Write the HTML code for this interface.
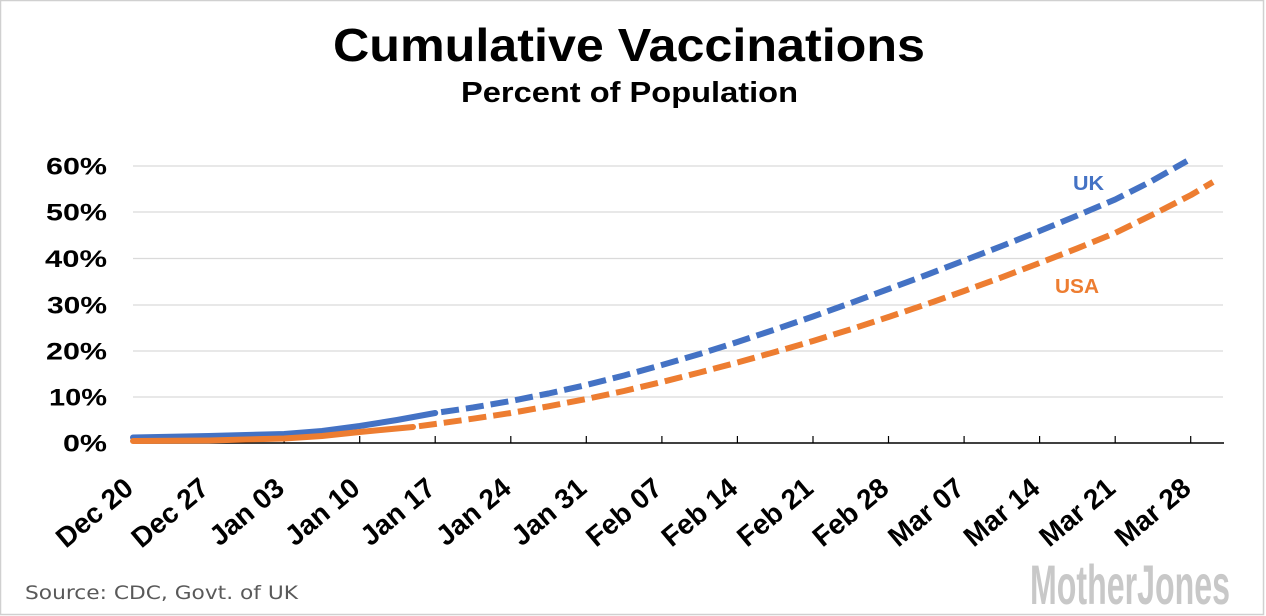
<!DOCTYPE html>
<html>
<head>
<meta charset="utf-8">
<style>
  html, body { margin: 0; padding: 0; background: #ffffff; }
  body { width: 1266px; height: 616px; overflow: hidden; }
  svg { display: block; }
</style>
</head>
<body>
<svg width="1266" height="616" viewBox="0 0 1266 616" xmlns="http://www.w3.org/2000/svg">
  <rect x="0" y="0" width="1266" height="616" fill="#ffffff"/>
  <!-- frame -->
  <rect x="0.5" y="0.5" width="1263" height="614" fill="none" stroke="#d0d0d0" stroke-width="1.5"/>

  <!-- title -->
  <text x="333" y="61" font-family="Liberation Sans, sans-serif" font-weight="bold" font-size="46" fill="#000" textLength="592" lengthAdjust="spacingAndGlyphs">Cumulative Vaccinations</text>
  <text x="461" y="102" font-family="Liberation Sans, sans-serif" font-weight="bold" font-size="29" fill="#000" textLength="337" lengthAdjust="spacingAndGlyphs">Percent of Population</text>

  <!-- gridlines -->
  <g stroke="#dadada" stroke-width="1.2">
    <line x1="133" y1="166" x2="1223" y2="166"/>
    <line x1="133" y1="212" x2="1223" y2="212"/>
    <line x1="133" y1="258.5" x2="1223" y2="258.5"/>
    <line x1="133" y1="305" x2="1223" y2="305"/>
    <line x1="133" y1="351" x2="1223" y2="351"/>
    <line x1="133" y1="397" x2="1223" y2="397"/>
  </g>

  <!-- y labels -->
  <g font-family="Liberation Sans, sans-serif" font-weight="bold" font-size="24" fill="#000" text-anchor="end">
    <text x="107" y="174.5" textLength="61" lengthAdjust="spacingAndGlyphs">60%</text>
    <text x="107" y="220.5" textLength="61" lengthAdjust="spacingAndGlyphs">50%</text>
    <text x="107" y="267" textLength="62" lengthAdjust="spacingAndGlyphs">40%</text>
    <text x="107" y="313.5" textLength="60" lengthAdjust="spacingAndGlyphs">30%</text>
    <text x="107" y="359.5" textLength="61" lengthAdjust="spacingAndGlyphs">20%</text>
    <text x="107" y="405.5" textLength="58" lengthAdjust="spacingAndGlyphs">10%</text>
    <text x="107" y="451.5" textLength="44" lengthAdjust="spacingAndGlyphs">0%</text>
  </g>

  <!-- axis -->
  <line x1="133" y1="443" x2="1224" y2="443" stroke="#000" stroke-width="1.6"/>
  <g stroke="#000" stroke-width="1.2">
    <line x1="133" y1="436" x2="133" y2="443"/>
    <line x1="208.6" y1="436" x2="208.6" y2="443"/>
    <line x1="284.1" y1="436" x2="284.1" y2="443"/>
    <line x1="359.7" y1="436" x2="359.7" y2="443"/>
    <line x1="435.2" y1="436" x2="435.2" y2="443"/>
    <line x1="510.8" y1="436" x2="510.8" y2="443"/>
    <line x1="586.3" y1="436" x2="586.3" y2="443"/>
    <line x1="661.9" y1="436" x2="661.9" y2="443"/>
    <line x1="737.4" y1="436" x2="737.4" y2="443"/>
    <line x1="813" y1="436" x2="813" y2="443"/>
    <line x1="888.5" y1="436" x2="888.5" y2="443"/>
    <line x1="964.1" y1="436" x2="964.1" y2="443"/>
    <line x1="1039.6" y1="436" x2="1039.6" y2="443"/>
    <line x1="1115.2" y1="436" x2="1115.2" y2="443"/>
    <line x1="1190.7" y1="436" x2="1190.7" y2="443"/>
  </g>

  <!-- x labels -->
  <g font-family="Liberation Sans, sans-serif" font-weight="bold" font-size="28" fill="#000" text-anchor="end">
    <text x="135" y="491" transform="rotate(-40 135 491)">Dec 20</text>
    <text x="210.6" y="491" transform="rotate(-40 210.6 491)">Dec 27</text>
    <text x="286.1" y="491" transform="rotate(-40 286.1 491)">Jan 03</text>
    <text x="361.7" y="491" transform="rotate(-40 361.7 491)">Jan 10</text>
    <text x="437.2" y="491" transform="rotate(-40 437.2 491)">Jan 17</text>
    <text x="512.8" y="491" transform="rotate(-40 512.8 491)">Jan 24</text>
    <text x="588.3" y="491" transform="rotate(-40 588.3 491)">Jan 31</text>
    <text x="663.9" y="491" transform="rotate(-40 663.9 491)">Feb 07</text>
    <text x="739.4" y="491" transform="rotate(-40 739.4 491)">Feb 14</text>
    <text x="815" y="491" transform="rotate(-40 815 491)">Feb 21</text>
    <text x="890.5" y="491" transform="rotate(-40 890.5 491)">Feb 28</text>
    <text x="966.1" y="491" transform="rotate(-40 966.1 491)">Mar 07</text>
    <text x="1041.6" y="491" transform="rotate(-40 1041.6 491)">Mar 14</text>
    <text x="1117.2" y="491" transform="rotate(-40 1117.2 491)">Mar 21</text>
    <text x="1192.7" y="491" transform="rotate(-40 1192.7 491)">Mar 28</text>
  </g>

  <!-- UK series -->
  <polyline fill="none" stroke="#4472C4" stroke-width="6" stroke-linecap="round" stroke-linejoin="round"
    points="133,437.5 208.6,436 284.1,434 322,431 359.7,426 397,420 435.2,413"/>
  <polyline fill="none" stroke="#4472C4" stroke-width="6" stroke-linecap="butt" stroke-linejoin="round" stroke-dasharray="18 7" stroke-dashoffset="-6"
    points="435.2,413 473,407.5 510.8,401 548.5,393.5 586.3,385 624,375.5 661.9,365 699.6,354 737.4,342 775,329.5 813,316.5 850.7,303 888.5,289 926.3,275 964.1,260.5 1001.8,246 1039.6,231 1077.4,215.5 1115.2,199.5 1150,182 1187,161"/>

  <!-- USA series -->
  <polyline fill="none" stroke="#ED7D31" stroke-width="6" stroke-linecap="round" stroke-linejoin="round"
    points="133,441 208.6,440.5 284.1,438.5 322,436 359.7,432 386,429.5 413,427"/>
  <polyline fill="none" stroke="#ED7D31" stroke-width="6" stroke-linecap="butt" stroke-linejoin="round" stroke-dasharray="18 7" stroke-dashoffset="-6"
    points="413,427 435.2,424 473,418.7 510.8,413 548.5,406.3 586.3,399 624,391 661.9,382 699.6,372.5 737.4,362.5 775,352 813,341 850.7,329.3 888.5,317 926.3,304.3 964.1,291 1001.8,277.3 1039.6,263 1077.4,248.3 1115.2,233 1155,213.5 1191,195 1213,182"/>

  <!-- series labels -->
  <text x="1073" y="190" font-family="Liberation Sans, sans-serif" font-weight="bold" font-size="20" fill="#4472C4" textLength="31" lengthAdjust="spacingAndGlyphs">UK</text>
  <text x="1055" y="293" font-family="Liberation Sans, sans-serif" font-weight="bold" font-size="20" fill="#ED7D31" textLength="44" lengthAdjust="spacingAndGlyphs">USA</text>

  <!-- source -->
  <text x="25" y="599" font-family="DejaVu Sans, Liberation Sans, sans-serif" font-size="19" fill="#595959" textLength="273" lengthAdjust="spacingAndGlyphs">Source: CDC, Govt. of UK</text>

  <!-- logo -->
  <text x="1030" y="604" font-family="Liberation Sans Narrow, Liberation Sans, sans-serif" font-weight="bold" font-size="56" fill="#c8c8c8" textLength="200" lengthAdjust="spacingAndGlyphs">MotherJones</text>
</svg>
</body>
</html>
